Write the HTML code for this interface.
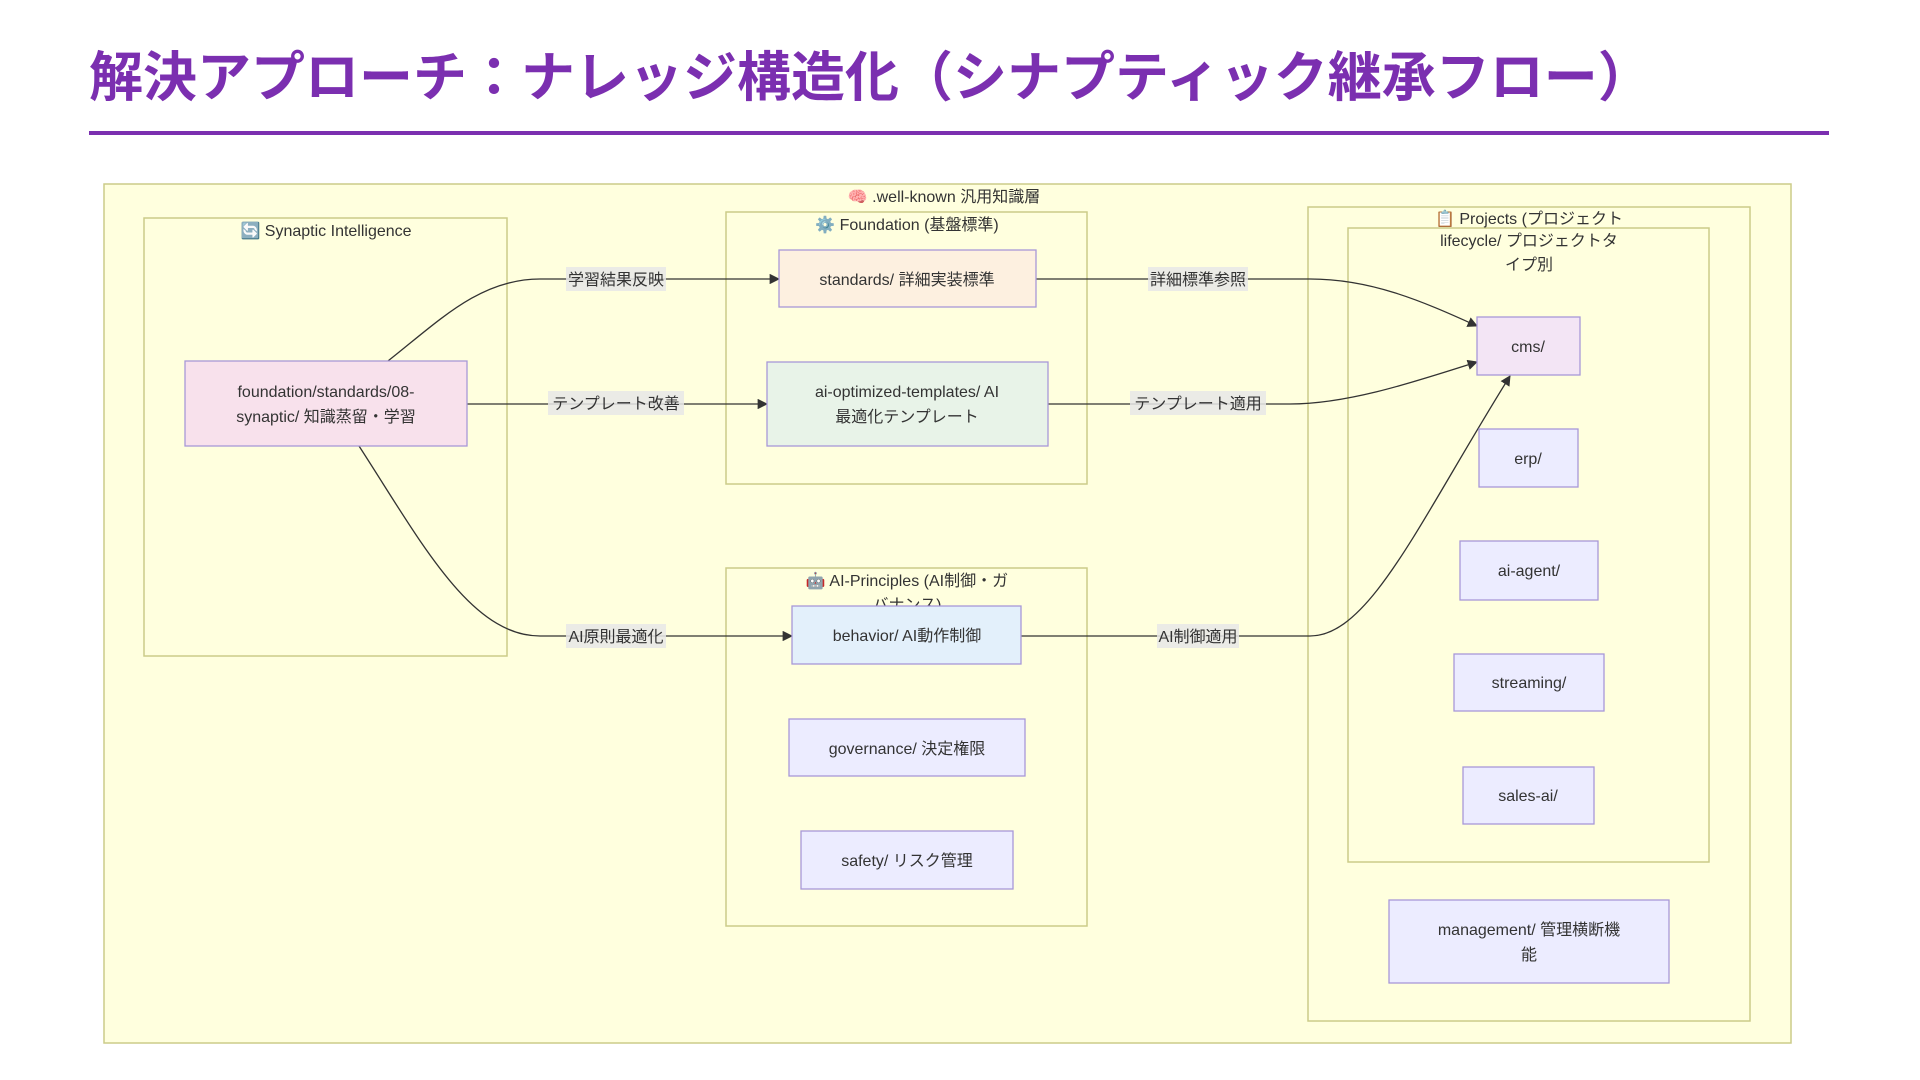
<!DOCTYPE html>
<html><head><meta charset="utf-8"><style>
html,body{margin:0;padding:0;background:#fff;width:1920px;height:1080px;overflow:hidden}
svg text{font-family:"Liberation Sans","Noto Sans CJK JP",sans-serif;}
</style></head><body>
<svg width="1920" height="1080" viewBox="0 0 1920 1080" xmlns="http://www.w3.org/2000/svg">
<defs><marker id="a" viewBox="0 0 10 10" refX="9" refY="5" markerWidth="8" markerHeight="8" orient="auto"><path d="M0,0 L10,5 L0,10 z" fill="#333"/></marker></defs>
<text x="89" y="96" font-size="54" font-weight="bold" fill="#7b2fb0">解決アプローチ：ナレッジ構造化（シナプティック継承フロー）</text>
<rect x="89" y="131" width="1740" height="4" fill="#7b2fb0"/>

<rect x="104" y="184" width="1687" height="859" fill="#ffffde" stroke="#cccc88" stroke-width="1.5"/>
<text x="944" y="202" font-size="16" text-anchor="middle" fill="#333">🧠 .well-known 汎用知識層</text>

<rect x="144" y="218" width="363" height="438" fill="#ffffde" stroke="#cccc88" stroke-width="1.5"/>
<text x="326" y="236" font-size="16" text-anchor="middle" fill="#333">🔄 Synaptic Intelligence</text>

<rect x="726" y="212" width="361" height="272" fill="#ffffde" stroke="#cccc88" stroke-width="1.5"/>
<text x="907" y="230" font-size="16" text-anchor="middle" fill="#333">⚙️ Foundation (基盤標準)</text>

<rect x="726" y="568" width="361" height="358" fill="#ffffde" stroke="#cccc88" stroke-width="1.5"/>
<text x="907" y="586" font-size="16" text-anchor="middle" fill="#333">🤖 AI-Principles (AI制御・ガ</text>
<text x="907" y="610" font-size="16" text-anchor="middle" fill="#333">バナンス)</text>

<rect x="1308" y="207" width="442" height="814" fill="#ffffde" stroke="#cccc88" stroke-width="1.5"/>
<rect x="1348" y="228" width="361" height="634" fill="#ffffde" stroke="#cccc88" stroke-width="1.5"/>
<text x="1529" y="224" font-size="16" text-anchor="middle" fill="#333">📋 Projects (プロジェクト</text>
<text x="1529" y="246" font-size="16" text-anchor="middle" fill="#333">lifecycle/ プロジェクトタ</text>
<text x="1529" y="270" font-size="16" text-anchor="middle" fill="#333">イプ別</text>

<g fill="none" stroke="#333" stroke-width="1.3">
<path d="M388,361 C440,320 480,279 540,279 L779,279" marker-end="url(#a)"/>
<path d="M467,404 L767,404" marker-end="url(#a)"/>
<path d="M359,446 C420,540 470,636 540,636 L792,636" marker-end="url(#a)"/>
<path d="M1036,279 L1310,279 C1370,279 1420,300 1477,326" marker-end="url(#a)"/>
<path d="M1048,404 L1290,404 C1350,404 1420,380 1477,362" marker-end="url(#a)"/>
<path d="M1021,636 L1310,636 C1370,636 1420,520 1510,376" marker-end="url(#a)"/>
</g>
<g font-size="16" fill="#333" text-anchor="middle">
<rect x="566" y="267" width="100" height="24" fill="#e8e8e8" opacity="0.85"/><text x="616" y="285">学習結果反映</text>
<rect x="548" y="391" width="136" height="24" fill="#e8e8e8" opacity="0.85"/><text x="616" y="409">テンプレート改善</text>
<rect x="566" y="624" width="100" height="24" fill="#e8e8e8" opacity="0.85"/><text x="616" y="642">AI原則最適化</text>
<rect x="1148" y="267" width="100" height="24" fill="#e8e8e8" opacity="0.85"/><text x="1198" y="285">詳細標準参照</text>
<rect x="1130" y="391" width="136" height="24" fill="#e8e8e8" opacity="0.85"/><text x="1198" y="409">テンプレート適用</text>
<rect x="1157" y="624" width="82" height="24" fill="#e8e8e8" opacity="0.85"/><text x="1198" y="642">AI制御適用</text>
</g>

<g stroke="#a898d8" stroke-width="1.3">
<rect x="185" y="361" width="282" height="85" fill="#f8e1ec"/>
<rect x="779" y="250" width="257" height="57" fill="#fdf0e0"/>
<rect x="767" y="362" width="281" height="84" fill="#e8f3e8"/>
<rect x="792" y="606" width="229" height="58" fill="#e3f0fb"/>
<rect x="789" y="719" width="236" height="57" fill="#ececff"/>
<rect x="801" y="831" width="212" height="58" fill="#ececff"/>
<rect x="1477" y="317" width="103" height="58" fill="#f3e5f5"/>
<rect x="1479" y="429" width="99" height="58" fill="#ececff"/>
<rect x="1460" y="541" width="138" height="59" fill="#ececff"/>
<rect x="1454" y="654" width="150" height="57" fill="#ececff"/>
<rect x="1463" y="767" width="131" height="57" fill="#ececff"/>
<rect x="1389" y="900" width="280" height="83" fill="#ececff"/>
</g>
<g font-size="16" fill="#333" text-anchor="middle">
<text x="326" y="397">foundation/standards/08-</text>
<text x="326" y="422">synaptic/ 知識蒸留・学習</text>
<text x="907" y="285">standards/ 詳細実装標準</text>
<text x="907" y="397">ai-optimized-templates/ AI</text>
<text x="907" y="422">最適化テンプレート</text>
<text x="907" y="641">behavior/ AI動作制御</text>
<text x="907" y="754">governance/ 決定権限</text>
<text x="907" y="866">safety/ リスク管理</text>
<text x="1528" y="352">cms/</text>
<text x="1528" y="464">erp/</text>
<text x="1529" y="576">ai-agent/</text>
<text x="1529" y="688">streaming/</text>
<text x="1528" y="801">sales-ai/</text>
<text x="1529" y="935">management/ 管理横断機</text>
<text x="1529" y="960">能</text>
</g>
</svg>
</body></html>
